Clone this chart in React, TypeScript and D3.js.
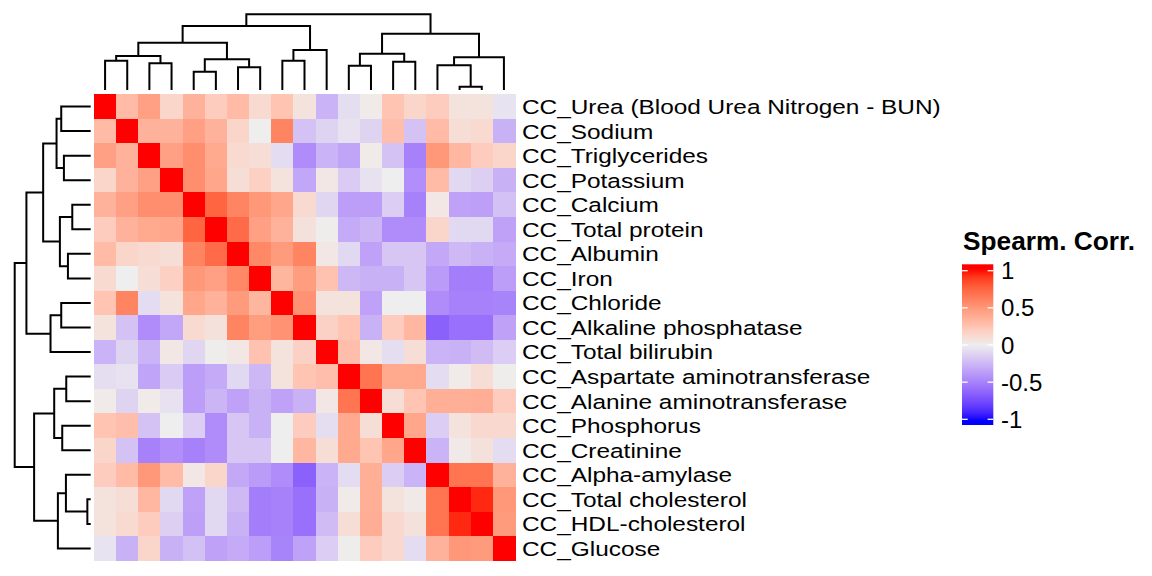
import React from "react";
import * as d3 from "d3";

const labels = [
  "CC_Urea (Blood Urea Nitrogen - BUN)",
  "CC_Sodium",
  "CC_Triglycerides",
  "CC_Potassium",
  "CC_Calcium",
  "CC_Total protein",
  "CC_Albumin",
  "CC_Iron",
  "CC_Chloride",
  "CC_Alkaline phosphatase",
  "CC_Total bilirubin",
  "CC_Aspartate aminotransferase",
  "CC_Alanine aminotransferase",
  "CC_Phosphorus",
  "CC_Creatinine",
  "CC_Alpha-amylase",
  "CC_Total cholesterol",
  "CC_HDL-cholesterol",
  "CC_Glucose",
];

const corr: number[][] = [
  [1, 0.3, 0.45, 0.15, 0.35, 0.2, 0.3, 0.12, 0.25, 0.07, -0.27, -0.07, 0.02, 0.25, 0.15, 0.2, 0.07, 0.07, -0.05],
  [0.3, 1, 0.35, 0.35, 0.45, 0.35, 0.15, 0, 0.6, -0.2, -0.12, -0.06, -0.12, 0.28, -0.2, 0.3, 0.1, 0.12, -0.28],
  [0.45, 0.35, 1, 0.45, 0.55, 0.4, 0.12, 0.1, -0.08, -0.45, -0.27, -0.34, 0.02, -0.2, -0.5, 0.5, 0.32, 0.2, 0.15],
  [0.15, 0.35, 0.45, 1, 0.55, 0.42, 0.1, 0.18, 0.07, -0.33, 0.04, -0.16, -0.06, 0, -0.44, 0.3, -0.1, -0.14, -0.28],
  [0.35, 0.45, 0.55, 0.55, 1, 0.75, 0.6, 0.5, 0.42, 0.12, -0.11, -0.37, -0.37, -0.15, -0.5, 0.04, -0.35, -0.36, -0.21],
  [0.2, 0.35, 0.4, 0.42, 0.75, 1, 0.72, 0.45, 0.35, 0.08, 0.01, -0.31, -0.26, -0.45, -0.45, 0.15, -0.1, -0.1, -0.35],
  [0.3, 0.15, 0.12, 0.1, 0.6, 0.72, 1, 0.58, 0.48, 0.6, 0.04, -0.1, -0.35, -0.18, -0.18, -0.32, -0.24, -0.28, -0.31],
  [0.12, 0, 0.1, 0.18, 0.5, 0.45, 0.58, 1, 0.33, 0.47, 0.26, -0.25, -0.28, -0.28, -0.18, -0.38, -0.52, -0.52, -0.37],
  [0.25, 0.6, -0.08, 0.07, 0.42, 0.35, 0.48, 0.33, 1, 0.53, 0.07, 0.07, -0.35, 0, 0, -0.45, -0.5, -0.5, -0.49],
  [0.07, -0.2, -0.45, -0.33, 0.12, 0.08, 0.6, 0.47, 0.53, 1, 0.17, 0.25, -0.28, 0.2, 0.32, -0.65, -0.58, -0.58, -0.35],
  [-0.27, -0.12, -0.27, 0.04, -0.11, 0.01, 0.04, 0.26, 0.07, 0.17, 1, 0.28, 0.04, -0.07, 0.1, -0.27, -0.28, -0.23, -0.15],
  [-0.07, -0.06, -0.34, -0.16, -0.37, -0.31, -0.1, -0.25, 0.07, 0.25, 0.28, 1, 0.68, 0.4, 0.4, -0.08, 0.02, 0.1, 0.01],
  [0.02, -0.12, 0.02, -0.06, -0.37, -0.26, -0.35, -0.28, -0.35, -0.28, 0.04, 0.68, 1, 0.1, 0.25, 0.37, 0.37, 0.38, 0.2],
  [0.25, 0.28, -0.2, 0, -0.15, -0.45, -0.18, -0.28, 0, 0.2, -0.07, 0.4, 0.1, 1, 0.42, -0.15, 0.07, 0.13, 0.13],
  [0.15, -0.2, -0.5, -0.44, -0.5, -0.45, -0.18, -0.18, 0, 0.32, 0.1, 0.4, 0.25, 0.42, 1, -0.27, 0.03, 0.08, -0.08],
  [0.2, 0.3, 0.5, 0.3, 0.04, 0.15, -0.32, -0.38, -0.45, -0.65, -0.27, -0.08, 0.37, -0.15, -0.27, 1, 0.68, 0.68, 0.35],
  [0.07, 0.1, 0.32, -0.1, -0.35, -0.1, -0.24, -0.52, -0.5, -0.58, -0.28, 0.02, 0.37, 0.07, 0.03, 0.68, 1, 0.95, 0.5],
  [0.07, 0.12, 0.2, -0.14, -0.36, -0.1, -0.28, -0.52, -0.5, -0.58, -0.23, 0.1, 0.38, 0.13, 0.08, 0.68, 0.95, 1, 0.48],
  [-0.05, -0.28, 0.15, -0.28, -0.21, -0.35, -0.31, -0.37, -0.49, -0.35, -0.15, 0.01, 0.2, 0.13, -0.08, 0.35, 0.5, 0.48, 1],
];

// Dendrogram merges (same for rows and columns). Leaf i = node i; merge k = node 19 + k.
const mergeLeft = [0, 2, 19, 4, 6, 22, 21, 8, 26, 25, 11, 13, 29, 16, 15, 33, 31, 28];
const mergeRight = [1, 3, 20, 5, 7, 23, 24, 9, 10, 27, 12, 14, 30, 17, 32, 18, 34, 35];
const mergeHeight = [0.88, 0.8, 1.02, 0.55, 0.68, 0.92, 1.42, 0.88, 1.2, 1.92, 0.73, 0.85, 1.09, 0.1, 0.74, 0.98, 1.69, 2.27];

const legendTicks = [1, 0.5, 0, -0.5, -1];

const FONT = "'Liberation Sans', Arial, Helvetica, sans-serif";

export default function App() {
  const n = labels.length;
  const x = d3.scaleBand<number>().domain(d3.range(n)).range([94, 515]).padding(0);
  const y = d3.scaleBand<number>().domain(d3.range(n)).range([94.3, 560.7]).padding(0);
  const color = d3
    .scaleLinear<string>()
    .domain([-1, 0, 1])
    .range(["blue", "#EEEEEE", "red"])
    .interpolate(d3.interpolateLab)
    .clamp(true);

  const maxH = d3.max(mergeHeight) as number;
  const hTop = d3.scaleLinear().domain([0, maxH]).range([90, 14.3]);
  const hLeft = d3.scaleLinear().domain([0, maxH]).range([90.7, 14.7]);

  const pos: number[] = d3.range(n).map((i) => i);
  const hts: number[] = d3.range(n).map(() => 0);
  mergeLeft.forEach((a, k) => {
    const b = mergeRight[k];
    pos.push((pos[a] + pos[b]) / 2);
    hts.push(mergeHeight[k]);
  });

  const center = (scale: d3.ScaleBand<number>, p: number) =>
    (scale(0) as number) + scale.bandwidth() * (p + 0.5);

  const topPaths = mergeLeft.map((a, k) => {
    const b = mergeRight[k];
    const h = hTop(mergeHeight[k]);
    const xa = center(x, pos[a]);
    const xb = center(x, pos[b]);
    return `M${xa},${hTop(hts[a])}V${h}H${xb}V${hTop(hts[b])}`;
  });
  const leftPaths = mergeLeft.map((a, k) => {
    const b = mergeRight[k];
    const h = hLeft(mergeHeight[k]);
    const ya = center(y, pos[a]);
    const yb = center(y, pos[b]);
    return `M${hLeft(hts[a])},${ya}H${h}V${yb}H${hLeft(hts[b])}`;
  });

  const ly = d3.scaleLinear().domain([1, -1]).range([270.7, 419.3]);
  const barTop = 264.3;
  const barBottom = 425;
  const barX = 962;
  const barW = 31.3;
  const stops = d3.range(0, 41).map((i) => {
    const t = i / 40;
    const yy = barTop + t * (barBottom - barTop);
    return { offset: t, c: color(ly.invert(yy)) };
  });

  return (
    <svg
      width={1152}
      height={576}
      style={{ position: "absolute", left: 0, top: 0, background: "white" }}
      fontFamily={FONT}
    >
      <defs>
        <linearGradient id="lg" x1="0" y1="0" x2="0" y2="1">
          {stops.map((s, i) => (
            <stop key={i} offset={s.offset} stopColor={s.c} />
          ))}
        </linearGradient>
      </defs>
      <g shapeRendering="crispEdges">
        {corr.map((row, i) =>
          row.map((v, j) => (
            <rect
              key={`${i}-${j}`}
              x={x(j)}
              y={y(i)}
              width={x.bandwidth() + 0.5}
              height={y.bandwidth() + 0.5}
              fill={color(v)}
            />
          ))
        )}
      </g>
      <g fill="none" stroke="black" strokeWidth={2}>
        {topPaths.map((d, i) => (
          <path key={`t${i}`} d={d} />
        ))}
        {leftPaths.map((d, i) => (
          <path key={`l${i}`} d={d} />
        ))}
      </g>
      <g fontSize={20.5} fill="black">
        {labels.map((l, i) => (
          <text
            key={l}
            transform={`translate(522,${center(y, i)}) scale(1.19,1)`}
            dy="0.36em"
          >
            {l}
          </text>
        ))}
      </g>
      <text
        transform="translate(963,250) scale(1.05,1)"
        fontSize={25}
        fontWeight="bold"
      >
        Spearm. Corr.
      </text>
      <rect x={barX} y={barTop} width={barW} height={barBottom - barTop} fill="url(#lg)" />
      <g stroke="white" strokeWidth={1.3}>
        {legendTicks.map((t) => (
          <g key={t}>
            <line x1={barX} x2={barX + 5.7} y1={ly(t)} y2={ly(t)} />
            <line x1={barX + barW - 5.7} x2={barX + barW} y1={ly(t)} y2={ly(t)} />
          </g>
        ))}
      </g>
      <g fontSize={24} fill="black">
        {legendTicks.map((t) => (
          <text key={t} x={1001} y={ly(t)} dy="0.36em">
            {String(t)}
          </text>
        ))}
      </g>
    </svg>
  );
}
